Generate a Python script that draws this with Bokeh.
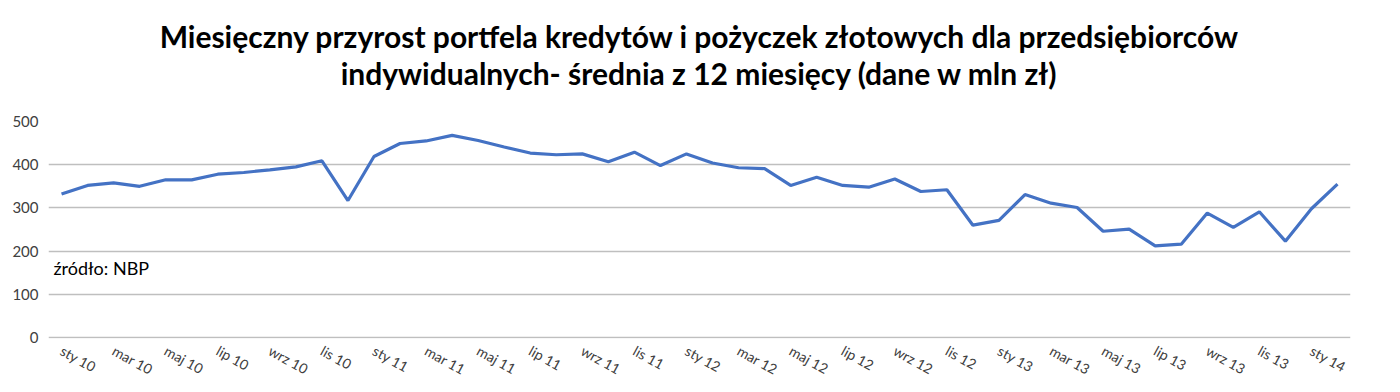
from bokeh.plotting import figure
from bokeh.models import Range1d, FixedTicker, Label, Title
from bokeh.embed import file_html
from bokeh.resources import INLINE

# Data: monthly values, Jan 2010 .. Feb 2014 (mln zł)
values = [332, 352, 358, 350, 365, 365, 378, 382, 388, 395,
          409, 317, 419, 449, 455, 468, 456, 441, 427, 423,
          425, 407, 429, 398, 425, 404, 393, 391, 352, 371,
          352, 348, 367, 338, 342, 260, 271, 331, 311, 301,
          246, 251, 212, 216, 288, 255, 291, 223, 298, 355]
months = list(range(len(values)))

tick_labels = ["sty 10", "mar 10", "maj 10", "lip 10", "wrz 10", "lis 10",
               "sty 11", "mar 11", "maj 11", "lip 11", "wrz 11", "lis 11",
               "sty 12", "mar 12", "maj 12", "lip 12", "wrz 12", "lis 12",
               "sty 13", "mar 13", "maj 13", "lip 13", "wrz 13", "lis 13",
               "sty 14"]
tick_positions = months[::2]
y_ticks = [0, 100, 200, 300, 400, 500]

title_line1 = "Miesięczny przyrost portfela kredytów i pożyczek złotowych dla przedsiębiorców"
title_line2 = "indywidualnych- średnia z 12 miesięcy (dane w mln zł)"
source_text = "źródło: NBP"

FONT = "Lato"

p = figure(width=1384, height=392, output_backend="svg", toolbar_location=None,
           x_range=Range1d(-0.5, len(values) - 0.5), y_range=Range1d(-2.3, 500),
           min_border_left=48, min_border_right=34, min_border_top=121,
           min_border_bottom=54)
p.outline_line_color = None
p.background_fill_color = "white"
p.border_fill_color = "white"

for txt, standoff in ((title_line2, 62), (title_line1, -64)):
    p.add_layout(Title(text=txt, align="center", text_font=FONT, text_font_style="bold",
                       text_font_size="30px", text_color="#000000", standoff=standoff),
                 "above")

p.line(months, values, line_color="#4472C4", line_width=3.2)

# y axis
p.yaxis.ticker = FixedTicker(ticks=y_ticks)
p.yaxis.axis_line_color = None
p.yaxis.major_tick_line_color = None
p.yaxis.minor_tick_line_color = None
p.yaxis.major_tick_out = 0
p.yaxis.major_label_text_font = FONT
p.yaxis.major_label_text_font_size = "15px"
p.yaxis.major_label_text_color = "#404040"
p.yaxis.major_label_standoff = 10

# x axis
p.xaxis.ticker = FixedTicker(ticks=tick_positions)
p.xaxis.major_label_overrides = {pos: lab for pos, lab in zip(tick_positions, tick_labels)}
p.xaxis.axis_line_color = None
p.xaxis.major_tick_line_color = None
p.xaxis.minor_tick_line_color = None
p.xaxis.major_tick_out = 0
p.xaxis.major_tick_in = 0
p.xaxis.major_label_text_font = FONT
p.xaxis.major_label_text_font_size = "14px"
p.xaxis.major_label_text_color = "#404040"
p.xaxis.major_label_orientation = -0.5
p.xaxis.major_label_standoff = 11

p.xgrid.grid_line_color = None
p.ygrid.grid_line_color = "#BFBFBF"
p.ygrid.grid_line_width = 1.5

p.add_layout(Label(x=-0.31, y=160, text=source_text, text_font=FONT,
                   text_font_size="18px", text_color="#000000",
                   text_baseline="middle", text_align="left"))

open("out.html", "w").write(file_html(p, INLINE))
